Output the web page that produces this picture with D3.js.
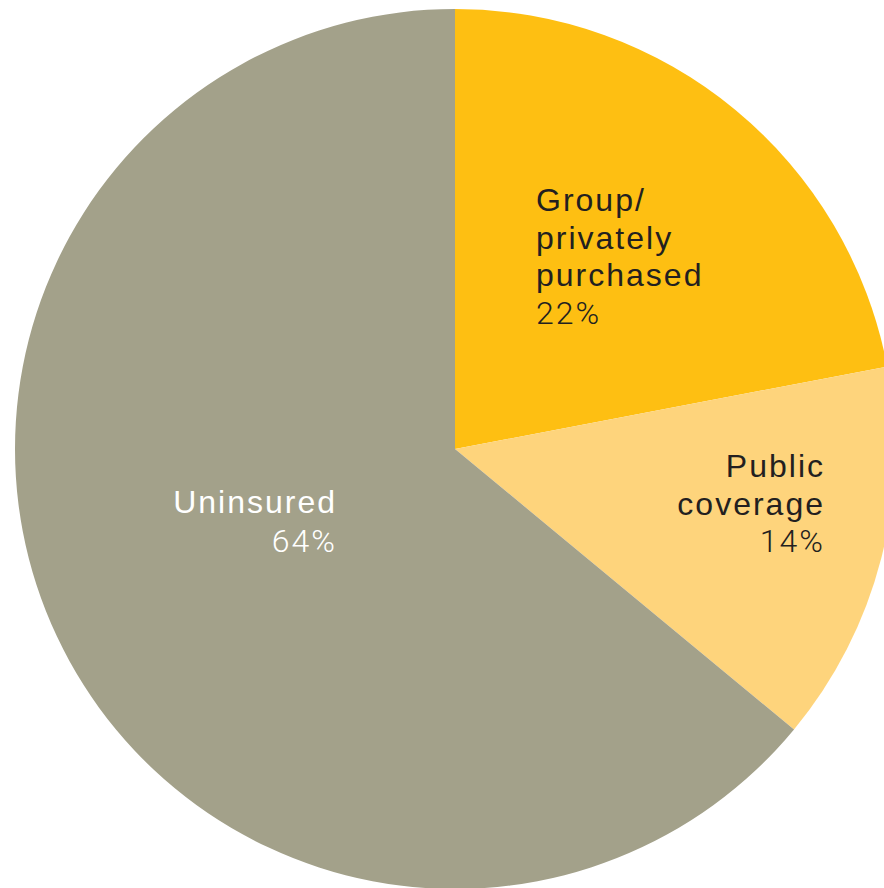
<!DOCTYPE html>
<html>
<head>
<meta charset="utf-8">
<script src="https://cdn.jsdelivr.net/npm/d3@7"></script>
<style>
  html, body { margin: 0; padding: 0; background: #ffffff; }
  svg { display: block; }
  text { font-family: "Liberation Sans", Arial, sans-serif; }
</style>
</head>
<body>
<svg id="chart" width="884" height="888"></svg>
<script>
// Health coverage shares
const categories = ["Group/privately purchased", "Public coverage", "Uninsured"];
const shares = [22, 14, 64];
const sliceColors = ["#FEBF12", "#FED47C", "#A3A18A"];

// Label lines per slice: name lines, then the percentage
const labelLines = [
  ["Group/", "privately", "purchased"],
  ["Public", "coverage"],
  ["Uninsured"]
];

const width = 884, height = 888;
const cx = 455, cy = 449, radius = 440;

const svg = d3.select("#chart");
const g = svg.append("g").attr("transform", `translate(${cx},${cy})`);

const pie = d3.pie().sort(null).value(d => d.value).startAngle(0).endAngle(2 * Math.PI);
const arc = d3.arc().innerRadius(0).outerRadius(radius);

const data = categories.map((c, i) => ({ name: c, value: shares[i], color: sliceColors[i], lines: labelLines[i] }));
const arcs = pie(data);

g.selectAll("path.slice")
  .data(arcs)
  .join("path")
  .attr("class", "slice")
  .attr("d", arc)
  .attr("fill", d => d.data.color);

// Label placement (relative to centre) and styling
const labelSpec = [
  { x: 81, y: -238, anchor: "start", fill: "#231F20" },
  { x: 368, y: 28, anchor: "end", fill: "#231F20" },
  { x: -120, y: 64, anchor: "end", fill: "#FFFFFF" }
];
const lineStep = 37.5;
const spacing = 2;

arcs.forEach((a, i) => {
  const s = labelSpec[i];
  const xx = s.anchor === "end" ? s.x + spacing : s.x;
  const t = g.append("text")
    .attr("text-anchor", s.anchor)
    .attr("fill", s.fill)
    .attr("font-size", 32)
    .attr("letter-spacing", spacing + "px");
  a.data.lines.forEach((ln, k) => {
    t.append("tspan")
      .attr("x", xx)
      .attr("y", s.y + k * lineStep)
      .text(ln);
  });
  t.append("tspan")
    .attr("x", xx)
    .attr("y", s.y + a.data.lines.length * lineStep + (i === 2 ? 1.5 : 0))
    .attr("font-weight", 300)
    .attr("font-family", "Roboto, 'Liberation Sans', sans-serif")
    .text(d3.format("d")(a.data.value) + "%");
});
</script>
</body>
</html>
